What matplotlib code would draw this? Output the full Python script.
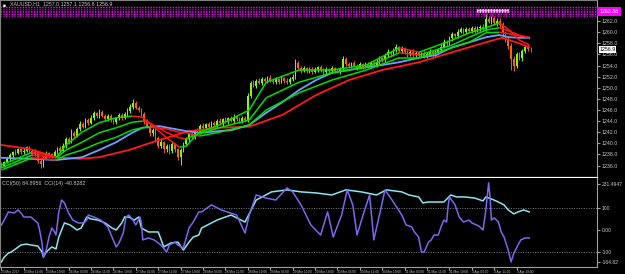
import matplotlib
matplotlib.use("Agg")
import matplotlib.pyplot as plt
from matplotlib.collections import LineCollection
from matplotlib.patches import Rectangle
from matplotlib.transforms import blended_transform_factory
import numpy as np

plt.rcParams["font.family"] = ["Liberation Sans", "DejaVu Sans"]

# ---- data (H1 candles, price units) ----
first_open = 1236.3
close = [
    1236.0, 1236.6, 1237.2, 1237.9, 1238.5, 1238.2, 1238.9, 1238.4, 1238.7, 1239.3,
    1238.6, 1238.1, 1238.5, 1236.9, 1236.2, 1237.4, 1238.3, 1238.0, 1237.6, 1238.4,
    1239.1, 1238.7, 1239.6, 1240.8, 1240.3, 1241.9, 1241.4, 1242.6, 1243.5, 1243.0,
    1244.2, 1243.7, 1244.6, 1245.4, 1244.9, 1245.6, 1245.0, 1244.4, 1244.9, 1244.2,
    1243.8, 1244.5, 1245.1, 1244.6, 1245.3, 1245.8, 1246.6, 1247.2, 1246.4, 1246.0,
    1245.2, 1244.0, 1243.1, 1241.8, 1242.4, 1240.9, 1239.6, 1240.2, 1238.9, 1239.5,
    1238.6, 1239.8, 1239.0, 1237.6, 1238.8, 1239.9, 1240.7, 1241.6, 1241.1, 1242.3,
    1242.0, 1243.1, 1242.8, 1243.4, 1243.0, 1243.7, 1243.3, 1244.0, 1243.6, 1244.3,
    1243.9, 1244.5, 1244.1, 1244.8, 1244.3, 1244.0, 1244.6, 1244.2, 1248.5, 1250.9,
    1250.4, 1251.3, 1250.9, 1251.6, 1251.2, 1251.8, 1251.3, 1251.0, 1251.5, 1251.1,
    1251.7, 1251.3, 1251.0, 1251.6, 1251.9, 1254.5, 1253.6, 1253.1, 1253.5, 1253.0,
    1253.4, 1252.9, 1253.3, 1253.7, 1253.2, 1252.8, 1253.3, 1253.0, 1253.5, 1253.1,
    1252.9, 1253.4, 1255.2, 1254.3, 1253.9, 1254.4, 1254.0, 1253.6, 1254.2, 1253.8,
    1254.3, 1253.9, 1254.5, 1254.1, 1254.7, 1255.3, 1255.0, 1255.9, 1256.4, 1256.0,
    1256.8, 1257.3, 1256.7, 1257.1, 1256.4, 1256.0, 1256.5, 1255.9, 1256.3, 1255.8,
    1256.2, 1255.7, 1256.1, 1256.5, 1256.0, 1256.4, 1256.8, 1257.4, 1258.3, 1258.0,
    1258.9, 1259.6, 1259.3, 1260.1, 1260.5, 1260.0, 1260.6, 1260.2, 1260.8, 1260.3,
    1260.7, 1261.0, 1260.6, 1262.4, 1261.9, 1262.5, 1261.6, 1262.1, 1261.3, 1259.8,
    1258.7, 1257.5, 1255.2, 1254.0, 1256.0, 1255.4, 1256.6, 1257.4, 1257.0, 1256.9,
]
wick_up = [
    0.3, 0.2, 0.4, 0.3, 0.2, 0.5, 0.3, 0.2, 0.4, 0.3,
    0.2, 0.3, 0.4, 0.2, 0.3, 0.4, 0.3, 0.2, 0.3, 0.4,
    0.3, 0.4, 0.5, 0.4, 0.3, 0.6, 0.3, 0.4, 0.5, 0.3,
    0.4, 0.3, 0.5, 0.4, 0.3, 0.6, 0.4, 0.3, 0.4, 0.3,
    0.2, 0.3, 0.4, 0.3, 0.4, 0.5, 0.5, 0.8, 0.4, 0.3,
    0.3, 0.4, 0.3, 0.5, 0.4, 0.3, 0.4, 0.5, 0.3, 0.4,
    0.3, 0.4, 0.3, 0.2, 0.4, 0.3, 0.4, 0.3, 0.5, 0.3,
    0.4, 0.3, 0.5, 0.3, 0.4, 0.3, 0.4, 0.3, 0.5, 0.3,
    0.4, 0.3, 0.4, 0.5, 0.3, 0.4, 0.3, 0.4, 0.5, 0.4,
    0.5, 0.3, 0.4, 0.3, 0.4, 0.3, 0.5, 0.3, 0.4, 0.3,
    0.4, 0.3, 0.4, 0.3, 0.5, 0.6, 0.4, 0.3, 0.4, 0.3,
    0.4, 0.3, 0.4, 0.3, 0.4, 0.3, 0.4, 0.3, 0.4, 0.3,
    0.3, 0.4, 0.5, 0.3, 0.4, 0.3, 0.4, 0.3, 0.4, 0.3,
    0.4, 0.3, 0.4, 0.3, 0.4, 0.5, 0.3, 0.4, 0.5, 0.3,
    0.4, 0.5, 0.3, 0.4, 0.3, 0.4, 0.3, 0.4, 0.3, 0.4,
    0.3, 0.4, 0.3, 0.4, 0.3, 0.4, 0.3, 0.5, 0.4, 0.3,
    0.5, 0.4, 0.3, 0.5, 0.4, 0.3, 0.4, 0.3, 0.4, 0.3,
    0.4, 0.3, 0.4, 0.9, 0.5, 0.4, 0.5, 0.4, 0.5, 0.6,
    0.4, 0.5, 0.6, 0.5, 0.4, 0.5, 0.4, 0.3, 0.4, 0.3,
]
wick_dn = [
    0.4, 0.3, 0.2, 0.3, 0.4, 0.3, 0.2, 0.4, 0.3, 0.2,
    0.3, 0.4, 0.3, 0.5, 0.6, 0.4, 0.3, 0.4, 0.3, 0.2,
    0.3, 0.4, 0.3, 0.4, 0.5, 0.3, 0.4, 0.3, 0.4, 0.3,
    0.3, 0.4, 0.3, 0.4, 0.3, 0.4, 0.3, 0.4, 0.3, 0.4,
    0.3, 0.4, 0.3, 0.4, 0.3, 0.4, 0.3, 0.4, 0.3, 0.4,
    0.4, 0.5, 0.4, 0.5, 0.4, 0.6, 0.5, 0.4, 0.6, 0.4,
    0.5, 0.4, 0.5, 0.6, 1.5, 0.4, 0.3, 0.4, 0.3, 0.4,
    0.3, 0.4, 0.3, 0.4, 0.3, 0.4, 0.3, 0.4, 0.3, 0.4,
    0.3, 0.4, 0.3, 0.4, 0.3, 0.4, 0.3, 0.4, 0.3, 0.3,
    0.3, 0.4, 0.3, 0.4, 0.3, 0.4, 0.3, 0.4, 0.3, 0.4,
    0.3, 0.4, 0.3, 0.4, 0.3, 0.4, 0.3, 0.4, 0.3, 0.4,
    0.3, 0.4, 0.3, 0.4, 0.3, 0.4, 0.3, 0.4, 0.3, 0.4,
    0.3, 0.4, 0.3, 0.4, 0.3, 0.4, 0.3, 0.4, 0.3, 0.4,
    0.3, 0.4, 0.3, 0.4, 0.3, 0.4, 0.3, 0.4, 0.3, 0.4,
    0.3, 0.4, 0.3, 0.4, 0.3, 0.4, 0.3, 0.4, 0.3, 0.4,
    0.3, 0.4, 0.3, 0.4, 0.3, 0.4, 0.3, 0.4, 0.3, 0.4,
    0.3, 0.4, 0.3, 0.4, 0.3, 0.4, 0.3, 0.4, 0.3, 0.4,
    0.3, 0.4, 0.3, 0.4, 0.3, 0.4, 0.3, 0.4, 0.5, 0.6,
    0.5, 0.6, 2.0, 0.9, 0.5, 0.4, 0.5, 0.4, 0.3, 0.4,
]

# moving averages (read at knots, bar index / price)
ma_x = [0, 11.0, 19.6, 23.1, 28.8, 34.9, 41.0, 46.7, 50.3, 52.8, 58.8, 63.5, 66.0, 70.6, 77.8,
        88.5, 94.6, 106.3, 118.1, 130.3, 142.1, 149.2, 161.0, 167.1, 173.1, 177.8, 181.3, 184.9, 188.5]
ma_fast1 = [1236.1, 1238.4, 1237.5, 1239.7, 1242.0, 1243.7, 1244.6, 1244.9, 1244.7, 1243.7, 1241.1,
            1239.3, 1239.5, 1242.0, 1243.3, 1246.0, 1251.0, 1253.2, 1253.2, 1254.1, 1257.2, 1256.4,
            1258.6, 1259.9, 1260.8, 1261.7, 1260.4, 1258.6, 1257.7]
ma_fast2 = [1235.6, 1237.9, 1237.4, 1238.8, 1240.2, 1241.9, 1242.8, 1243.8, 1244.0, 1243.7, 1242.0,
            1241.0, 1240.8, 1241.7, 1242.8, 1244.2, 1248.2, 1251.0, 1252.7, 1253.7, 1256.3, 1255.9,
            1257.7, 1259.1, 1260.4, 1260.8, 1260.2, 1259.5, 1259.0]
ma_fast3 = [1235.2, 1237.4, 1237.0, 1237.9, 1238.8, 1240.1, 1241.1, 1242.4, 1242.8, 1243.0, 1242.6,
            1242.0, 1241.9, 1241.3, 1242.0, 1243.3, 1246.0, 1249.1, 1251.4, 1253.2, 1255.4, 1255.4,
            1257.2, 1258.2, 1259.9, 1260.0, 1259.7, 1259.3, 1259.1]
blue_x = [0, 11.0, 19.6, 28.8, 34.9, 41.0, 46.7, 50.3, 56.3, 66.0, 70.6, 82.4, 88.5, 94.6, 100.3,
          106.3, 112.4, 118.1, 124.2, 130.3, 136.0, 142.1, 149.2, 155.3, 161.0, 167.1, 173.1,
          177.8, 181.3, 184.9, 188.5]
blue_ma = [1237.4, 1237.2, 1237.0, 1237.5, 1238.8, 1240.2, 1241.9, 1242.8, 1243.1, 1242.2, 1241.9,
           1242.4, 1243.3, 1245.5, 1247.4, 1249.6, 1251.4, 1252.7, 1253.2, 1253.7, 1254.1, 1254.6,
           1255.4, 1255.9, 1257.3, 1258.2, 1259.1, 1259.5, 1259.1, 1259.0, 1259.0]
red_x = [0, 9.9, 19.6, 27.8, 34.9, 45.6, 56.3, 67.1, 77.8, 88.5, 100.3, 112.4, 124.2, 136.0,
         149.2, 161.0, 173.1, 178.8, 183.8, 188.5]
red_ma = [1239.7, 1239.0, 1237.5, 1237.2, 1237.5, 1238.8, 1240.6, 1242.2, 1242.8, 1243.0, 1245.1,
          1248.7, 1251.4, 1253.2, 1254.6, 1256.4, 1258.2, 1259.0, 1258.2, 1257.3]

# CCI panel
cci14_x = [0, 1, 2.5, 4.5, 6, 7, 8, 10.5, 13, 13.5, 14.5, 15, 16, 17, 18, 19, 19.5, 20.5, 21.5,
           22.5, 24, 25.5, 27.5, 29.5, 30.5, 31, 33, 35.5, 38, 39.5, 41, 42, 43.5, 44.5, 45.5, 47,
           48, 49.5, 50, 50.5, 52.5, 54.5, 57, 59, 60, 62, 63, 65, 67, 68.5, 70.5, 71.5, 75, 78.5,
           84, 87, 88.5, 91, 94.5, 98, 102, 104, 107, 110.5, 114, 116.5, 118.5, 121.5, 123.5,
           125.5, 127, 129.5, 131.5, 133, 135, 137, 139.5, 143, 144.5, 146.5, 147.5, 149, 150,
           151, 152.5, 153.5, 154.5, 156, 157, 158, 159, 159.5, 160, 162, 163.5, 165, 167, 168,
           170.5, 172, 173, 174, 174.5, 175, 176, 177.5, 178.5, 179.5, 181, 182, 183, 184.5,
           185.5, 187, 188.5]
cci14 = [23, 45, 82, 77, 91, 77, 59, 59, 32, 9, -59, -123, -91, -32, 9, -9, -23, 82, 136,
         123, 77, 45, 32, 32, 45, 68, 59, 45, 14, -32, -77, -59, -14, 59, 68, 45,
         23, 59, 32, -45, -36, -45, -68, -100, -68, -55, -68, -82, 9, 36, 82, 82, 114, 91,
         68, -14, 68, 159, 145, 136, 191, 173, 114, 23, -23, 82, -32, 68, 182,
         114, -23, 82, 159, -45, 68, 182, 136, 68, 23, 14, -9, -32, -100,
         -100, -55, -45, -23, -23, 14, 45, 36, 105, 150, 114, 59, 36, 45, 32,
         18, 0, 91, 214, 150, 45, 55, 36, -9, -32, -91, -145, -105, -68,
         -45, -36, -36]
cci50_x = [0, 1, 2.5, 3.5, 5.5, 7, 9, 10.5, 13, 14.5, 15, 16, 18, 19.5, 20.5, 22.5, 24.5, 27,
           28.5, 30.5, 32, 34.5, 37, 39.5, 41, 43, 44, 45.5, 47.5, 49, 50, 52.5, 56, 58, 60.5,
           63, 65, 67, 68.5, 70.5, 71.5, 77, 82, 87, 91, 96.5, 102, 107, 112.5, 118, 123, 128.5,
           134, 137.5, 143, 145.5, 149, 150.5, 152.5, 156, 158, 160.5, 162.5, 165.5, 169, 172,
           173, 175, 177.5, 179.5, 181, 183, 184.5, 186.5, 188.5]
cci50 = [-145, -123, -105, -100, -82, -68, -64, -68, -73, -100, -123, -100, -77, -86, -32, 32,
         23, 0, 9, 59, 50, 45, 32, 9, 0, 32, 59, 59, 45, 59, 9, -9, -9, -77, -59,
         -55, -91, -55, -32, -23, 9, 45, 68, 36, 136, 173, 182, 173, 168, 159, 182, 173,
         159, 182, 173, 159, 150, 123, 127, 127, 127, 159, 150, 150, 145, 132,
         150, 141, 127, 114, 91, 73, 82, 91, 82]

price_ticks = [1262.0, 1260.0, 1258.0, 1256.0, 1254.0, 1252.0, 1250.0, 1248.0,
               1246.0, 1244.0, 1242.0, 1240.0, 1238.0, 1236.0]
band_levels = [1264.5, 1264.2, 1263.9, 1263.6, 1263.3, 1263.0]
time_labels = ["23 Mar 2017", "23 Mar 11:00", "23 Mar 19:00", "24 Mar 03:00", "24 Mar 11:00",
               "24 Mar 19:00", "27 Mar 03:00", "27 Mar 11:00", "27 Mar 19:00", "28 Mar 03:00",
               "28 Mar 11:00", "28 Mar 19:00", "29 Mar 03:00", "29 Mar 11:00", "29 Mar 19:00",
               "30 Mar 03:00", "30 Mar 11:00", "30 Mar 19:00", "31 Mar 03:00", "31 Mar 11:00",
               "31 Mar 19:00", "3 Apr 03:00", "3 Apr 11:00", "3 Apr 19:00"]
title = "XAUUSD,H1  1257.0 1257.1 1256.8 1256.9"

# ---- figure ----
W, H = 625, 274
fig = plt.figure(figsize=(W / 100, H / 100), dpi=100, facecolor="black")
ax = fig.add_axes([0, 1 - 178 / H, 597 / W, 178 / H], facecolor="black")
ax2 = fig.add_axes([0, 7 / H, 597 / W, 89 / H], facecolor="black")
txt = "#c8c8c8"
bull, bear = "#7fff00", "#ff6000"

n = len(close)
idx = np.arange(n)
opens = np.array([first_open] + close[:-1])
cl = np.array(close)
top = np.maximum(opens, cl)
bot = np.minimum(opens, cl)
cols = [bull if c >= o else bear for o, c in zip(opens, cl)]
ax.vlines(idx, bot - np.array(wick_dn), top + np.array(wick_up), colors=cols, lw=0.7)
ax.bar(idx, np.maximum(top - bot, 0.08), bottom=bot, width=0.6, color=cols, linewidth=0)


def slope_line(a, xs, ys, lw=1.1):
    pts = np.column_stack([xs, ys])
    segs = np.stack([pts[:-1], pts[1:]], axis=1)
    c = ["#00e000" if ys[k + 1] >= ys[k] else "#ff1a1a" for k in range(len(ys) - 1)]
    a.add_collection(LineCollection(segs, colors=c, linewidths=lw))


ax.plot(red_x, red_ma, color="#ff1a1a", lw=1.3)
ax.plot(blue_x, blue_ma, color="#6ea0ff", lw=1.3)
slope_line(ax, ma_x, ma_fast3)
slope_line(ax, ma_x, ma_fast2)
slope_line(ax, ma_x, ma_fast1)

# magenta zone at the top
for k, lv in enumerate(band_levels):
    ax.axhline(lv, color="#ff00ff" if k % 2 == 0 else "#b000c0", lw=1.0, ls=(0, (1, 1)))
ax.add_patch(Rectangle((170, 1263.6), 11, 0.6, facecolor="#f4c8ec", edgecolor="#ffffff", lw=0.5))

ax.set_xlim(-0.5, 212.7)
ax.set_ylim(1265.8 - 0.18 * 178, 1265.8)
ax.set_xticks([])
ax.yaxis.tick_right()
ax.set_yticks(price_ticks)
ax.set_yticklabels(["%.1f" % p for p in price_ticks])
ax.tick_params(axis="y", colors="#a0a0a0", labelcolor=txt, labelsize=3.8, length=2, pad=1.5)
for s in ["left", "top"]:
    ax.spines[s].set_color("#808080")
ax.spines["right"].set_color("#a0a0a0")
ax.spines["bottom"].set_color("white")
ax.spines["bottom"].set_linewidth(1.6)

tr = blended_transform_factory(ax.transAxes, ax.transData)
ax.text(1.004, close[-1], "%.1f" % close[-1], transform=tr, fontsize=3.8, color="black",
        va="center", ha="left", bbox=dict(fc="white", ec="none", pad=0.5))
ax.text(1.004, 1263.8, "1263.88", transform=tr, fontsize=3.8, color="white",
        va="center", ha="left", bbox=dict(fc="#ff00ff", ec="none", pad=1.5))
ax.text(0.004, 0.985, "\u25a0", transform=ax.transAxes, fontsize=3.5, color="white", va="top")
ax.text(0.017, 0.99, title, transform=ax.transAxes, fontsize=3.8, color=txt, va="top")

# CCI panel
ax2.axhline(100, color="#808080", lw=0.7, ls=(0, (1, 1.5)))
ax2.axhline(-100, color="#808080", lw=0.7, ls=(0, (1, 1.5)))
ax2.plot(cci50_x, cci50, color="#8ae6f0", lw=1.1)
ax2.plot(cci14_x, cci14, color="#7b68ee", lw=1.1)
ax2.set_xlim(-0.5, 212.7)
ax2.set_ylim(-168, 236)
ax2.yaxis.tick_right()
ax2.set_yticks([210, 100, 0, -100, -145])
ax2.set_yticklabels(["231.4947", "100", "0.00", "-100", "-164.82"])
ax2.tick_params(axis="y", colors="#a0a0a0", labelcolor=txt, labelsize=3.6, length=2, pad=1.5)
ax2.set_xticks([8 * k for k in range(len(time_labels))])
ax2.set_xticklabels(time_labels, ha="left")
ax2.tick_params(axis="x", colors="#a0a0a0", labelcolor=txt, labelsize=2.3, length=2, pad=0.5)
ax2.spines["top"].set_visible(False)
ax2.spines["left"].set_color("#808080")
for s in ["right", "bottom"]:
    ax2.spines[s].set_color("#a0a0a0")
ax2.text(0.004, 0.97, "CCI(50) 84.8956  CCI(14) -40.8282", transform=ax2.transAxes,
         fontsize=3.8, color=txt, va="top")

fig.savefig("out.png", dpi=100, facecolor="black")
